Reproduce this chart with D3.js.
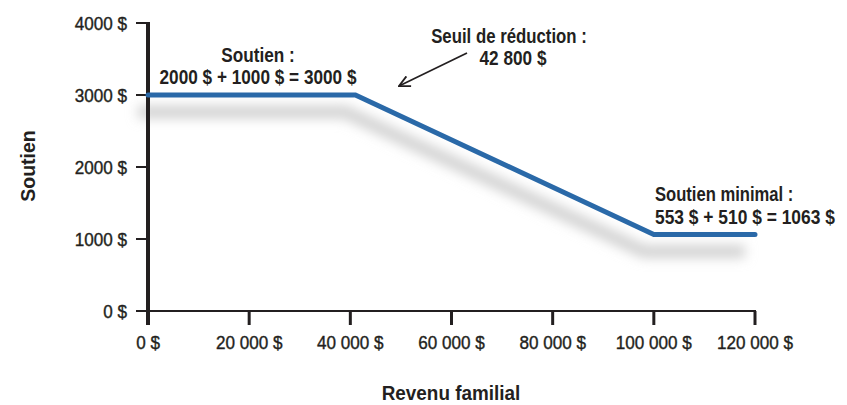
<!DOCTYPE html>
<html>
<head>
<meta charset="utf-8">
<script src="https://cdn.jsdelivr.net/npm/d3@7"></script>
<style>
  body { margin: 0; background: #fff; }
  svg text { font-family: "Liberation Sans", Arial, sans-serif; fill: #231f20; }
</style>
</head>
<body>
<script>
// data
const incomes = [0, 41000, 100000, 120000]
const support = [3000, 3000, 1063, 1063]
const xTicks = [0, 20000, 40000, 60000, 80000, 100000, 120000]
const yTicks = [0, 1000, 2000, 3000, 4000]

const width = 847
const height = 405

const x = d3.scaleLinear().domain([0, 120000]).range([148, 755])
const y = d3.scaleLinear().domain([0, 4000]).range([311, 23])

const xFmt = d => d3.format(",")(d).replace(/,/g, " ") + " $"
const yFmt = d => d + " $"

const svg = d3.select("body").append("svg")
  .attr("width", width)
  .attr("height", height)

// condensed look: squeeze the text horizontally
const label = (g, tx, ty, str, size, weight, anchor, sx, rot) => {
  return g.append("text")
    .attr("transform", "translate(" + tx + "," + ty + ")" + (rot ? " rotate(" + rot + ")" : "") + " scale(" + sx + ",1)")
    .attr("text-anchor", anchor)
    .attr("font-size", size)
    .attr("font-weight", weight)
    .text(str)
}

const defs = svg.append("defs")
defs.append("filter").attr("id", "blur")
  .attr("x", "-20%").attr("y", "-50%").attr("width", "140%").attr("height", "200%")
  .append("feGaussianBlur").attr("stdDeviation", 6)
defs.append("marker").attr("id", "arrow")
  .attr("viewBox", "0 0 12 12").attr("refX", 11).attr("refY", 6)
  .attr("markerWidth", 13).attr("markerHeight", 13).attr("orient", "auto")
  .attr("markerUnits", "userSpaceOnUse")
  .append("path").attr("d", "M1,1 L11,6 L1,11")
  .attr("fill", "none").attr("stroke", "#231f20").attr("stroke-width", 1.7)

const pts = incomes.map((d, i) => [d, support[i]])
const line = d3.line().x(d => x(d[0])).y(d => y(d[1]))

// shadow under the line
svg.append("path")
  .attr("d", line(pts))
  .attr("transform", "translate(-10,17)")
  .attr("fill", "none")
  .attr("stroke", "#d2d2d2")
  .attr("stroke-width", 13)
  .attr("filter", "url(#blur)")

// x axis
const gX = svg.append("g")
  .attr("transform", "translate(0," + y(0) + ")")
gX.append("line")
  .attr("x1", 136).attr("x2", x(120000) + 1)
  .attr("stroke", "#231f20").attr("stroke-width", 2)
gX.selectAll(".tick").data(xTicks).enter().append("line")
  .attr("x1", d => x(d)).attr("x2", d => x(d))
  .attr("y1", 0).attr("y2", 14)
  .attr("stroke", "#231f20").attr("stroke-width", 3)
xTicks.forEach(d => label(gX, x(d), 38, xFmt(d), 19, "normal", "middle", 0.9)
  .attr("stroke", "#231f20").attr("stroke-width", 0.4))

// y axis
const gY = svg.append("g")
gY.append("line")
  .attr("x1", x(0)).attr("x2", x(0))
  .attr("y1", y(4000) - 1).attr("y2", y(0) + 14)
  .attr("stroke", "#231f20").attr("stroke-width", 4)
gY.selectAll(".tick").data(yTicks).enter().append("line")
  .attr("x1", 136).attr("x2", x(0))
  .attr("y1", d => y(d)).attr("y2", d => y(d))
  .attr("stroke", "#231f20").attr("stroke-width", 2)
yTicks.forEach(d => label(gY, 127, y(d) + 6.5, yFmt(d), 19, "normal", "end", 0.9)
  .attr("stroke", "#231f20").attr("stroke-width", 0.4))

// main line
svg.append("path")
  .attr("d", line(pts))
  .attr("fill", "none")
  .attr("stroke", "#2a69a8")
  .attr("stroke-width", 5)
  .attr("stroke-linejoin", "miter")
  .attr("stroke-linecap", "round")

// axis titles
label(svg, 35, 166, "Soutien", 21, "bold", "middle", 0.93, -90)
label(svg, 451, 400, "Revenu familial", 21, "bold", "middle", 0.9)

// annotations
label(svg, 258, 62, "Soutien :", 20, "bold", "middle", 0.86)
label(svg, 258, 84, "2000 $ + 1000 $ = 3000 $", 20, "bold", "middle", 0.86)
label(svg, 509, 43, "Seuil de réduction :", 20, "bold", "middle", 0.84)
label(svg, 513, 65, "42 800 $", 20, "bold", "middle", 0.86)
label(svg, 655, 201, "Soutien minimal :", 20, "bold", "start", 0.83)
label(svg, 655, 224, "553 $ + 510 $ = 1063 $", 20, "bold", "start", 0.87)

svg.append("line")
  .attr("x1", 467).attr("y1", 53)
  .attr("x2", 399).attr("y2", 86)
  .attr("stroke", "#231f20").attr("stroke-width", 1.7)
  .attr("marker-end", "url(#arrow)")
</script>
</body>
</html>
